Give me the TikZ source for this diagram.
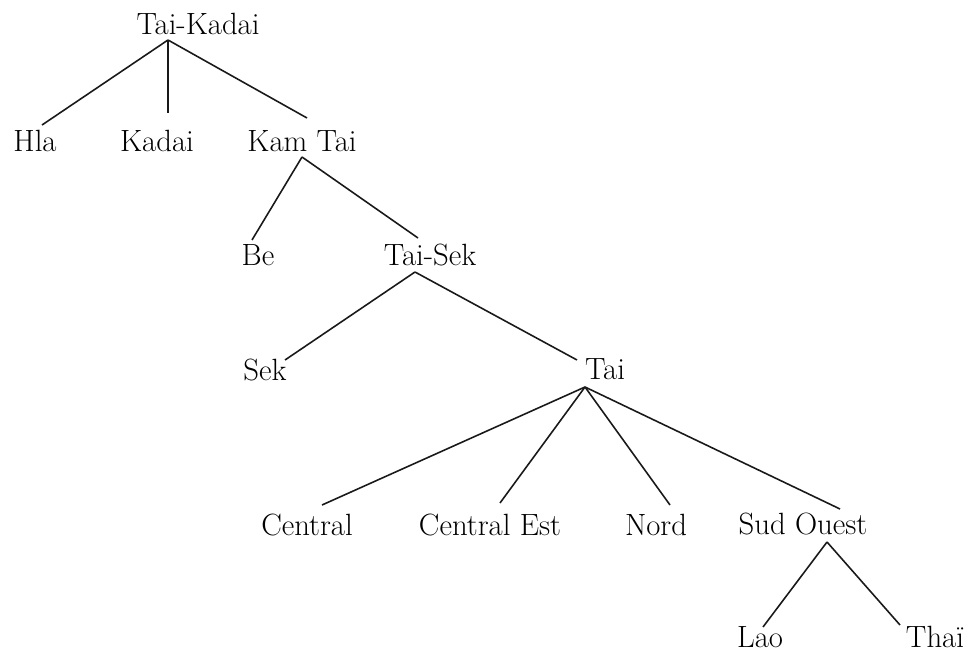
\documentclass[tikz,border=0pt]{standalone}
\usepackage{tikz}
\usetikzlibrary{calc}

\begin{document}
\begin{tikzpicture}[
        x=0.02cm, y=-0.02cm,
        lang/.style={
            anchor=base,
            inner sep=0pt,
            font=\fontsize{17.5}{21}\selectfont
        },
        branch/.style={
            line width=0.9pt,
            black!90
        }
    ]
    \useasboundingbox (0,0) rectangle (972,658);

    % Language nodes
    \node[lang] (taikadai) at (198,35) {Tai-Kadai};
    \node[lang] (hla) at (35,152) {Hla};
    \node[lang] (kadai) at (157,152) {Kadai};
    \node[lang] (kamtai) at (302,152) {Kam Tai};
    \node[lang] (be) at (258,265) {Be};
    \node[lang] (taisek) at (430,265) {Tai-Sek};
    \node[lang] (sek) at (265,380) {Sek};
    \node[lang] (tai) at (605,379) {Tai};
    \node[lang] (central) at (307,535) {Central};
    \node[lang] (centralest) at (490,535) {Central Est};
    \node[lang] (nord) at (656,535) {Nord};
    \node[lang] (sudouest) at (803,534) {Sud Ouest};
    \node[lang] (lao) at (760,647) {Lao};
    \node[lang] (thai) at (935,647) {Thaï};

    % Branch points just below the parent names
    \coordinate (tktop) at ($(taikadai.base)+(-30,5)$);
    \coordinate (kttop) at ($(kamtai.base)+(0,5)$);
    \coordinate (tstop) at ($(taisek.base)+(-15,7)$);
    \coordinate (taitop) at ($(tai.base)+(-20,8)$);
    \coordinate (sotop) at ($(sudouest.base)+(24,8)$);

    % Tai-Kadai
    \draw[branch] (tktop) -- ($(hla.base)+(7,-27)$);
    \draw[branch] (tktop) -- ($(kadai.base)+(11,-39)$);
    \draw[branch] (tktop) -- ($(kamtai.base)+(5,-34)$);

    % Kam Tai
    \draw[branch] (kttop) -- ($(be.base)+(-6,-25)$);
    \draw[branch] (kttop) -- ($(taisek.base)+(-12,-27)$);

    % Tai-Sek
    \draw[branch] (tstop) -- ($(sek.base)+(20,-20)$);
    \draw[branch] (tstop) -- ($(tai.base)+(-28,-19)$);

    % Tai
    \draw[branch] (taitop) -- ($(central.base)+(15,-30)$);
    \draw[branch] (taitop) -- ($(centralest.base)+(10,-32)$);
    \draw[branch] (taitop) -- ($(nord.base)+(14,-30)$);
    \draw[branch] (taitop) -- ($(sudouest.base)+(37,-25)$);

    % Sud Ouest
    \draw[branch] (sotop) -- ($(lao.base)+(3,-20)$);
    \draw[branch] (sotop) -- ($(thai.base)+(-35,-22)$);

\end{tikzpicture}
\end{document}
